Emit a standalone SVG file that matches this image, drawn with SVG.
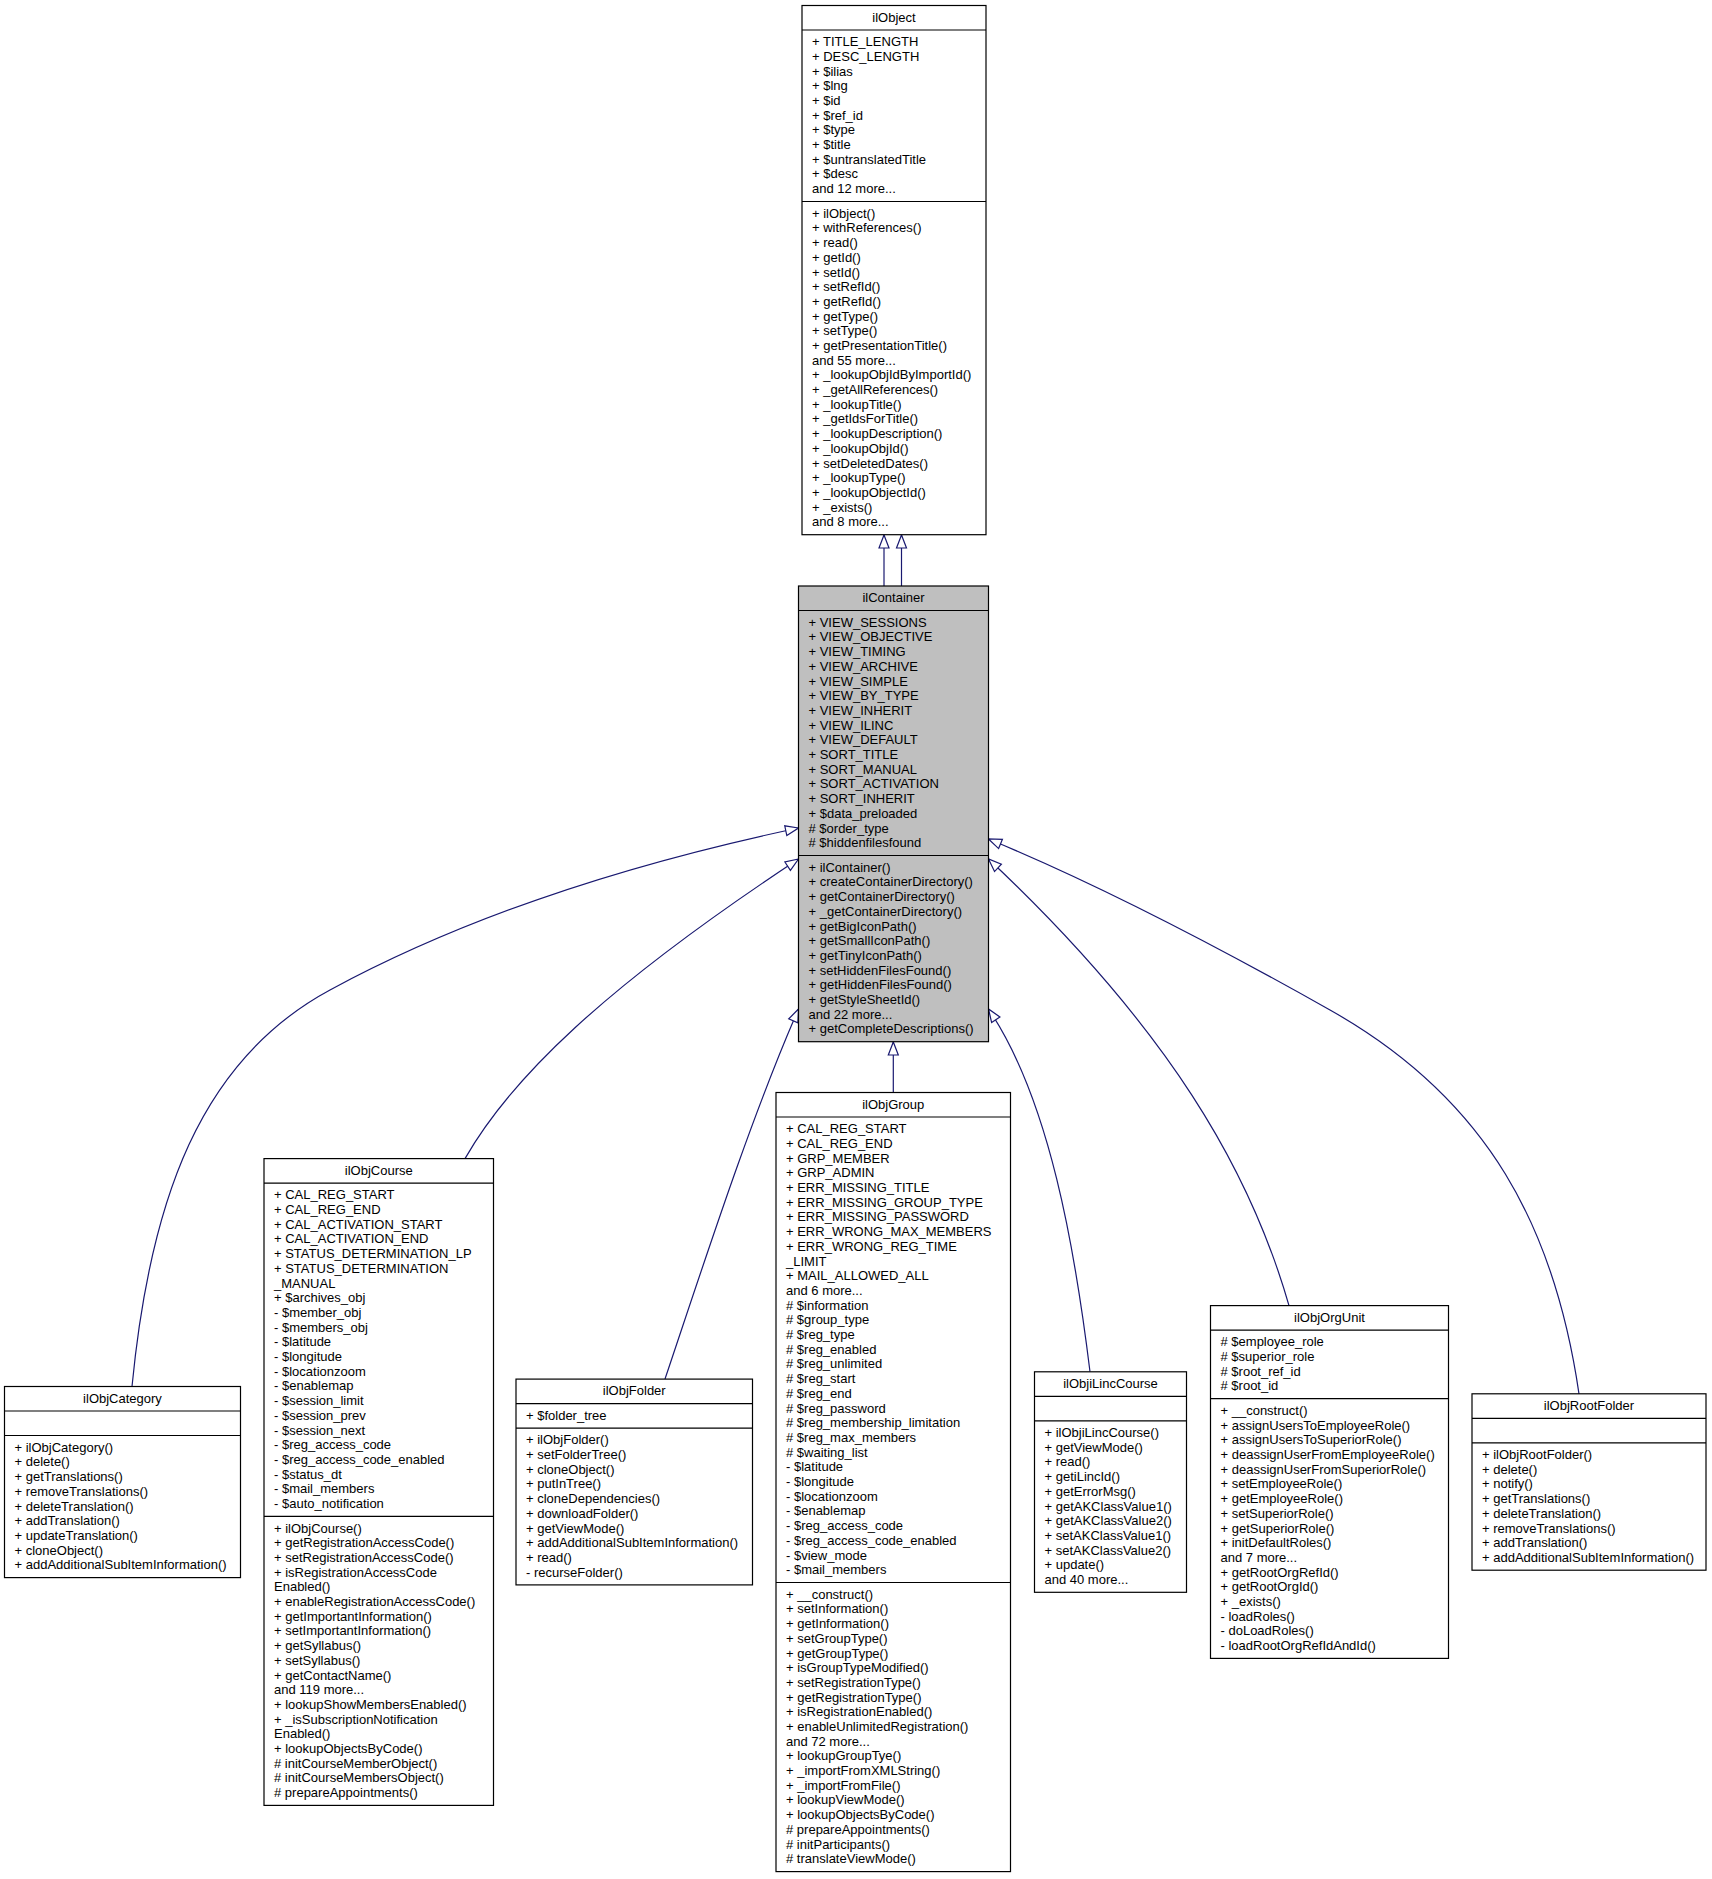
<svg xmlns="http://www.w3.org/2000/svg" width="1712" height="1879" viewBox="0 0 1712 1879">
<style>
.box{fill:#fff;stroke:#000;stroke-width:1.2}
.cur{fill:#bfbfbf}
.sep{stroke:#000;stroke-width:1.2}
text{font-family:"Liberation Sans",Arial,Helvetica,sans-serif;font-size:13px;fill:#000}
.t{text-anchor:middle}
.edge{fill:none;stroke:#191970;stroke-width:1.2;marker-end:url(#arr)}
</style>
<defs>
<marker id="arr" markerUnits="userSpaceOnUse" orient="auto" viewBox="-15 -8 17 16" markerWidth="17" markerHeight="16" refX="0" refY="0" overflow="visible">
<path d="M0,0 L-13,-5 L-13,5 Z" fill="#fff" stroke="#191970" stroke-width="1.2"/>
</marker>
</defs>
<rect width="1712" height="1879" fill="#fff"/>

<g id="connectors">
<path class="edge" d="M884,586 L884,535"/>
<path class="edge" d="M901.5,586 L901.5,535"/>
<path class="edge" d="M132,1386.5 C150,1200 200,1060 330,990 C450,925 600,870 798.5,828"/>
<path class="edge" d="M465,1158.6 C510,1080 600,990 798.5,859"/>
<path class="edge" d="M665,1379 C705,1260 750,1120 798.5,1009"/>
<path class="edge" d="M893.3,1092.5 L893.3,1042"/>
<path class="edge" d="M1090,1371.8 C1075,1250 1050,1100 988.5,1009"/>
<path class="edge" d="M1289,1305.6 C1250,1170 1170,1030 988.5,859"/>
<path class="edge" d="M1579,1393.8 C1555,1230 1490,1100 1330,1010 C1220,948 1100,885 988.5,839"/>
</g>

<g id="ilObject">
<rect class="box" x="802" y="5.5" width="184" height="529.2"/>
<line class="sep" x1="802" y1="30" x2="986" y2="30"/>
<line class="sep" x1="802" y1="201.5" x2="986" y2="201.5"/>
<text class="t" x="894" y="21.7">ilObject</text>
<text x="812" y="46.2"><tspan x="812" dy="0">+ TITLE_LENGTH</tspan><tspan x="812" dy="14.7">+ DESC_LENGTH</tspan><tspan x="812" dy="14.7">+ $ilias</tspan><tspan x="812" dy="14.7">+ $lng</tspan><tspan x="812" dy="14.7">+ $id</tspan><tspan x="812" dy="14.7">+ $ref_id</tspan><tspan x="812" dy="14.7">+ $type</tspan><tspan x="812" dy="14.7">+ $title</tspan><tspan x="812" dy="14.7">+ $untranslatedTitle</tspan><tspan x="812" dy="14.7">+ $desc</tspan><tspan x="812" dy="14.7">and 12 more...</tspan></text>
<text x="812" y="217.7"><tspan x="812" dy="0">+ ilObject()</tspan><tspan x="812" dy="14.7">+ withReferences()</tspan><tspan x="812" dy="14.7">+ read()</tspan><tspan x="812" dy="14.7">+ getId()</tspan><tspan x="812" dy="14.7">+ setId()</tspan><tspan x="812" dy="14.7">+ setRefId()</tspan><tspan x="812" dy="14.7">+ getRefId()</tspan><tspan x="812" dy="14.7">+ getType()</tspan><tspan x="812" dy="14.7">+ setType()</tspan><tspan x="812" dy="14.7">+ getPresentationTitle()</tspan><tspan x="812" dy="14.7">and 55 more...</tspan><tspan x="812" dy="14.7">+ _lookupObjIdByImportId()</tspan><tspan x="812" dy="14.7">+ _getAllReferences()</tspan><tspan x="812" dy="14.7">+ _lookupTitle()</tspan><tspan x="812" dy="14.7">+ _getIdsForTitle()</tspan><tspan x="812" dy="14.7">+ _lookupDescription()</tspan><tspan x="812" dy="14.7">+ _lookupObjId()</tspan><tspan x="812" dy="14.7">+ setDeletedDates()</tspan><tspan x="812" dy="14.7">+ _lookupType()</tspan><tspan x="812" dy="14.7">+ _lookupObjectId()</tspan><tspan x="812" dy="14.7">+ _exists()</tspan><tspan x="812" dy="14.7">and 8 more...</tspan></text>
</g>

<g id="ilContainer">
<rect class="box cur" x="798.5" y="586" width="190" height="455.7"/>
<line class="sep" x1="798.5" y1="610.5" x2="988.5" y2="610.5"/>
<line class="sep" x1="798.5" y1="855.5" x2="988.5" y2="855.5"/>
<text class="t" x="893.5" y="602.2">ilContainer</text>
<text x="808.5" y="626.7"><tspan x="808.5" dy="0">+ VIEW_SESSIONS</tspan><tspan x="808.5" dy="14.7">+ VIEW_OBJECTIVE</tspan><tspan x="808.5" dy="14.7">+ VIEW_TIMING</tspan><tspan x="808.5" dy="14.7">+ VIEW_ARCHIVE</tspan><tspan x="808.5" dy="14.7">+ VIEW_SIMPLE</tspan><tspan x="808.5" dy="14.7">+ VIEW_BY_TYPE</tspan><tspan x="808.5" dy="14.7">+ VIEW_INHERIT</tspan><tspan x="808.5" dy="14.7">+ VIEW_ILINC</tspan><tspan x="808.5" dy="14.7">+ VIEW_DEFAULT</tspan><tspan x="808.5" dy="14.7">+ SORT_TITLE</tspan><tspan x="808.5" dy="14.7">+ SORT_MANUAL</tspan><tspan x="808.5" dy="14.7">+ SORT_ACTIVATION</tspan><tspan x="808.5" dy="14.7">+ SORT_INHERIT</tspan><tspan x="808.5" dy="14.7">+ $data_preloaded</tspan><tspan x="808.5" dy="14.7"># $order_type</tspan><tspan x="808.5" dy="14.7"># $hiddenfilesfound</tspan></text>
<text x="808.5" y="871.7"><tspan x="808.5" dy="0">+ ilContainer()</tspan><tspan x="808.5" dy="14.7">+ createContainerDirectory()</tspan><tspan x="808.5" dy="14.7">+ getContainerDirectory()</tspan><tspan x="808.5" dy="14.7">+ _getContainerDirectory()</tspan><tspan x="808.5" dy="14.7">+ getBigIconPath()</tspan><tspan x="808.5" dy="14.7">+ getSmallIconPath()</tspan><tspan x="808.5" dy="14.7">+ getTinyIconPath()</tspan><tspan x="808.5" dy="14.7">+ setHiddenFilesFound()</tspan><tspan x="808.5" dy="14.7">+ getHiddenFilesFound()</tspan><tspan x="808.5" dy="14.7">+ getStyleSheetId()</tspan><tspan x="808.5" dy="14.7">and 22 more...</tspan><tspan x="808.5" dy="14.7">+ getCompleteDescriptions()</tspan></text>
</g>

<g id="ilObjCategory">
<rect class="box" x="4.5" y="1386.5" width="236" height="191.1"/>
<line class="sep" x1="4.5" y1="1411" x2="240.5" y2="1411"/>
<line class="sep" x1="4.5" y1="1435.5" x2="240.5" y2="1435.5"/>
<text class="t" x="122.5" y="1402.7">ilObjCategory</text>
<text x="14.5" y="1451.7"><tspan x="14.5" dy="0">+ ilObjCategory()</tspan><tspan x="14.5" dy="14.7">+ delete()</tspan><tspan x="14.5" dy="14.7">+ getTranslations()</tspan><tspan x="14.5" dy="14.7">+ removeTranslations()</tspan><tspan x="14.5" dy="14.7">+ deleteTranslation()</tspan><tspan x="14.5" dy="14.7">+ addTranslation()</tspan><tspan x="14.5" dy="14.7">+ updateTranslation()</tspan><tspan x="14.5" dy="14.7">+ cloneObject()</tspan><tspan x="14.5" dy="14.7">+ addAdditionalSubItemInformation()</tspan></text>
</g>

<g id="ilObjCourse">
<rect class="box" x="264" y="1158.6" width="229.5" height="646.8"/>
<line class="sep" x1="264" y1="1183.1" x2="493.5" y2="1183.1"/>
<line class="sep" x1="264" y1="1516.3" x2="493.5" y2="1516.3"/>
<text class="t" x="378.75" y="1174.8">ilObjCourse</text>
<text x="274" y="1199.3"><tspan x="274" dy="0">+ CAL_REG_START</tspan><tspan x="274" dy="14.7">+ CAL_REG_END</tspan><tspan x="274" dy="14.7">+ CAL_ACTIVATION_START</tspan><tspan x="274" dy="14.7">+ CAL_ACTIVATION_END</tspan><tspan x="274" dy="14.7">+ STATUS_DETERMINATION_LP</tspan><tspan x="274" dy="14.7">+ STATUS_DETERMINATION</tspan><tspan x="274" dy="14.7">_MANUAL</tspan><tspan x="274" dy="14.7">+ $archives_obj</tspan><tspan x="274" dy="14.7">- $member_obj</tspan><tspan x="274" dy="14.7">- $members_obj</tspan><tspan x="274" dy="14.7">- $latitude</tspan><tspan x="274" dy="14.7">- $longitude</tspan><tspan x="274" dy="14.7">- $locationzoom</tspan><tspan x="274" dy="14.7">- $enablemap</tspan><tspan x="274" dy="14.7">- $session_limit</tspan><tspan x="274" dy="14.7">- $session_prev</tspan><tspan x="274" dy="14.7">- $session_next</tspan><tspan x="274" dy="14.7">- $reg_access_code</tspan><tspan x="274" dy="14.7">- $reg_access_code_enabled</tspan><tspan x="274" dy="14.7">- $status_dt</tspan><tspan x="274" dy="14.7">- $mail_members</tspan><tspan x="274" dy="14.7">- $auto_notification</tspan></text>
<text x="274" y="1532.5"><tspan x="274" dy="0">+ ilObjCourse()</tspan><tspan x="274" dy="14.7">+ getRegistrationAccessCode()</tspan><tspan x="274" dy="14.7">+ setRegistrationAccessCode()</tspan><tspan x="274" dy="14.7">+ isRegistrationAccessCode</tspan><tspan x="274" dy="14.7">Enabled()</tspan><tspan x="274" dy="14.7">+ enableRegistrationAccessCode()</tspan><tspan x="274" dy="14.7">+ getImportantInformation()</tspan><tspan x="274" dy="14.7">+ setImportantInformation()</tspan><tspan x="274" dy="14.7">+ getSyllabus()</tspan><tspan x="274" dy="14.7">+ setSyllabus()</tspan><tspan x="274" dy="14.7">+ getContactName()</tspan><tspan x="274" dy="14.7">and 119 more...</tspan><tspan x="274" dy="14.7">+ lookupShowMembersEnabled()</tspan><tspan x="274" dy="14.7">+ _isSubscriptionNotification</tspan><tspan x="274" dy="14.7">Enabled()</tspan><tspan x="274" dy="14.7">+ lookupObjectsByCode()</tspan><tspan x="274" dy="14.7"># initCourseMemberObject()</tspan><tspan x="274" dy="14.7"># initCourseMembersObject()</tspan><tspan x="274" dy="14.7"># prepareAppointments()</tspan></text>
</g>

<g id="ilObjFolder">
<rect class="box" x="516" y="1379.1" width="236.5" height="205.8"/>
<line class="sep" x1="516" y1="1403.6" x2="752.5" y2="1403.6"/>
<line class="sep" x1="516" y1="1428.1" x2="752.5" y2="1428.1"/>
<text class="t" x="634.25" y="1395.3">ilObjFolder</text>
<text x="526" y="1419.8">+ $folder_tree</text>
<text x="526" y="1444.3"><tspan x="526" dy="0">+ ilObjFolder()</tspan><tspan x="526" dy="14.7">+ setFolderTree()</tspan><tspan x="526" dy="14.7">+ cloneObject()</tspan><tspan x="526" dy="14.7">+ putInTree()</tspan><tspan x="526" dy="14.7">+ cloneDependencies()</tspan><tspan x="526" dy="14.7">+ downloadFolder()</tspan><tspan x="526" dy="14.7">+ getViewMode()</tspan><tspan x="526" dy="14.7">+ addAdditionalSubItemInformation()</tspan><tspan x="526" dy="14.7">+ read()</tspan><tspan x="526" dy="14.7">- recurseFolder()</tspan></text>
</g>

<g id="ilObjGroup">
<rect class="box" x="776" y="1092.5" width="234.5" height="779.1"/>
<line class="sep" x1="776" y1="1117" x2="1010.5" y2="1117"/>
<line class="sep" x1="776" y1="1582.5" x2="1010.5" y2="1582.5"/>
<text class="t" x="893.25" y="1108.7">ilObjGroup</text>
<text x="786" y="1133.2"><tspan x="786" dy="0">+ CAL_REG_START</tspan><tspan x="786" dy="14.7">+ CAL_REG_END</tspan><tspan x="786" dy="14.7">+ GRP_MEMBER</tspan><tspan x="786" dy="14.7">+ GRP_ADMIN</tspan><tspan x="786" dy="14.7">+ ERR_MISSING_TITLE</tspan><tspan x="786" dy="14.7">+ ERR_MISSING_GROUP_TYPE</tspan><tspan x="786" dy="14.7">+ ERR_MISSING_PASSWORD</tspan><tspan x="786" dy="14.7">+ ERR_WRONG_MAX_MEMBERS</tspan><tspan x="786" dy="14.7">+ ERR_WRONG_REG_TIME</tspan><tspan x="786" dy="14.7">_LIMIT</tspan><tspan x="786" dy="14.7">+ MAIL_ALLOWED_ALL</tspan><tspan x="786" dy="14.7">and 6 more...</tspan><tspan x="786" dy="14.7"># $information</tspan><tspan x="786" dy="14.7"># $group_type</tspan><tspan x="786" dy="14.7"># $reg_type</tspan><tspan x="786" dy="14.7"># $reg_enabled</tspan><tspan x="786" dy="14.7"># $reg_unlimited</tspan><tspan x="786" dy="14.7"># $reg_start</tspan><tspan x="786" dy="14.7"># $reg_end</tspan><tspan x="786" dy="14.7"># $reg_password</tspan><tspan x="786" dy="14.7"># $reg_membership_limitation</tspan><tspan x="786" dy="14.7"># $reg_max_members</tspan><tspan x="786" dy="14.7"># $waiting_list</tspan><tspan x="786" dy="14.7">- $latitude</tspan><tspan x="786" dy="14.7">- $longitude</tspan><tspan x="786" dy="14.7">- $locationzoom</tspan><tspan x="786" dy="14.7">- $enablemap</tspan><tspan x="786" dy="14.7">- $reg_access_code</tspan><tspan x="786" dy="14.7">- $reg_access_code_enabled</tspan><tspan x="786" dy="14.7">- $view_mode</tspan><tspan x="786" dy="14.7">- $mail_members</tspan></text>
<text x="786" y="1598.7"><tspan x="786" dy="0">+ __construct()</tspan><tspan x="786" dy="14.7">+ setInformation()</tspan><tspan x="786" dy="14.7">+ getInformation()</tspan><tspan x="786" dy="14.7">+ setGroupType()</tspan><tspan x="786" dy="14.7">+ getGroupType()</tspan><tspan x="786" dy="14.7">+ isGroupTypeModified()</tspan><tspan x="786" dy="14.7">+ setRegistrationType()</tspan><tspan x="786" dy="14.7">+ getRegistrationType()</tspan><tspan x="786" dy="14.7">+ isRegistrationEnabled()</tspan><tspan x="786" dy="14.7">+ enableUnlimitedRegistration()</tspan><tspan x="786" dy="14.7">and 72 more...</tspan><tspan x="786" dy="14.7">+ lookupGroupTye()</tspan><tspan x="786" dy="14.7">+ _importFromXMLString()</tspan><tspan x="786" dy="14.7">+ _importFromFile()</tspan><tspan x="786" dy="14.7">+ lookupViewMode()</tspan><tspan x="786" dy="14.7">+ lookupObjectsByCode()</tspan><tspan x="786" dy="14.7"># prepareAppointments()</tspan><tspan x="786" dy="14.7"># initParticipants()</tspan><tspan x="786" dy="14.7"># translateViewMode()</tspan></text>
</g>

<g id="ilObjiLincCourse">
<rect class="box" x="1034.5" y="1371.8" width="152" height="220.5"/>
<line class="sep" x1="1034.5" y1="1396.3" x2="1186.5" y2="1396.3"/>
<line class="sep" x1="1034.5" y1="1420.8" x2="1186.5" y2="1420.8"/>
<text class="t" x="1110.5" y="1388">ilObjiLincCourse</text>
<text x="1044.5" y="1437"><tspan x="1044.5" dy="0">+ ilObjiLincCourse()</tspan><tspan x="1044.5" dy="14.7">+ getViewMode()</tspan><tspan x="1044.5" dy="14.7">+ read()</tspan><tspan x="1044.5" dy="14.7">+ getiLincId()</tspan><tspan x="1044.5" dy="14.7">+ getErrorMsg()</tspan><tspan x="1044.5" dy="14.7">+ getAKClassValue1()</tspan><tspan x="1044.5" dy="14.7">+ getAKClassValue2()</tspan><tspan x="1044.5" dy="14.7">+ setAKClassValue1()</tspan><tspan x="1044.5" dy="14.7">+ setAKClassValue2()</tspan><tspan x="1044.5" dy="14.7">+ update()</tspan><tspan x="1044.5" dy="14.7">and 40 more...</tspan></text>
</g>

<g id="ilObjOrgUnit">
<rect class="box" x="1210.5" y="1305.6" width="238" height="352.8"/>
<line class="sep" x1="1210.5" y1="1330.1" x2="1448.5" y2="1330.1"/>
<line class="sep" x1="1210.5" y1="1398.7" x2="1448.5" y2="1398.7"/>
<text class="t" x="1329.5" y="1321.8">ilObjOrgUnit</text>
<text x="1220.5" y="1346.3"><tspan x="1220.5" dy="0"># $employee_role</tspan><tspan x="1220.5" dy="14.7"># $superior_role</tspan><tspan x="1220.5" dy="14.7"># $root_ref_id</tspan><tspan x="1220.5" dy="14.7"># $root_id</tspan></text>
<text x="1220.5" y="1414.9"><tspan x="1220.5" dy="0">+ __construct()</tspan><tspan x="1220.5" dy="14.7">+ assignUsersToEmployeeRole()</tspan><tspan x="1220.5" dy="14.7">+ assignUsersToSuperiorRole()</tspan><tspan x="1220.5" dy="14.7">+ deassignUserFromEmployeeRole()</tspan><tspan x="1220.5" dy="14.7">+ deassignUserFromSuperiorRole()</tspan><tspan x="1220.5" dy="14.7">+ setEmployeeRole()</tspan><tspan x="1220.5" dy="14.7">+ getEmployeeRole()</tspan><tspan x="1220.5" dy="14.7">+ setSuperiorRole()</tspan><tspan x="1220.5" dy="14.7">+ getSuperiorRole()</tspan><tspan x="1220.5" dy="14.7">+ initDefaultRoles()</tspan><tspan x="1220.5" dy="14.7">and 7 more...</tspan><tspan x="1220.5" dy="14.7">+ getRootOrgRefId()</tspan><tspan x="1220.5" dy="14.7">+ getRootOrgId()</tspan><tspan x="1220.5" dy="14.7">+ _exists()</tspan><tspan x="1220.5" dy="14.7">- loadRoles()</tspan><tspan x="1220.5" dy="14.7">- doLoadRoles()</tspan><tspan x="1220.5" dy="14.7">- loadRootOrgRefIdAndId()</tspan></text>
</g>

<g id="ilObjRootFolder">
<rect class="box" x="1472" y="1393.8" width="234" height="176.4"/>
<line class="sep" x1="1472" y1="1418.3" x2="1706" y2="1418.3"/>
<line class="sep" x1="1472" y1="1442.8" x2="1706" y2="1442.8"/>
<text class="t" x="1589" y="1410">ilObjRootFolder</text>
<text x="1482" y="1459"><tspan x="1482" dy="0">+ ilObjRootFolder()</tspan><tspan x="1482" dy="14.7">+ delete()</tspan><tspan x="1482" dy="14.7">+ notify()</tspan><tspan x="1482" dy="14.7">+ getTranslations()</tspan><tspan x="1482" dy="14.7">+ deleteTranslation()</tspan><tspan x="1482" dy="14.7">+ removeTranslations()</tspan><tspan x="1482" dy="14.7">+ addTranslation()</tspan><tspan x="1482" dy="14.7">+ addAdditionalSubItemInformation()</tspan></text>
</g>
</svg>
